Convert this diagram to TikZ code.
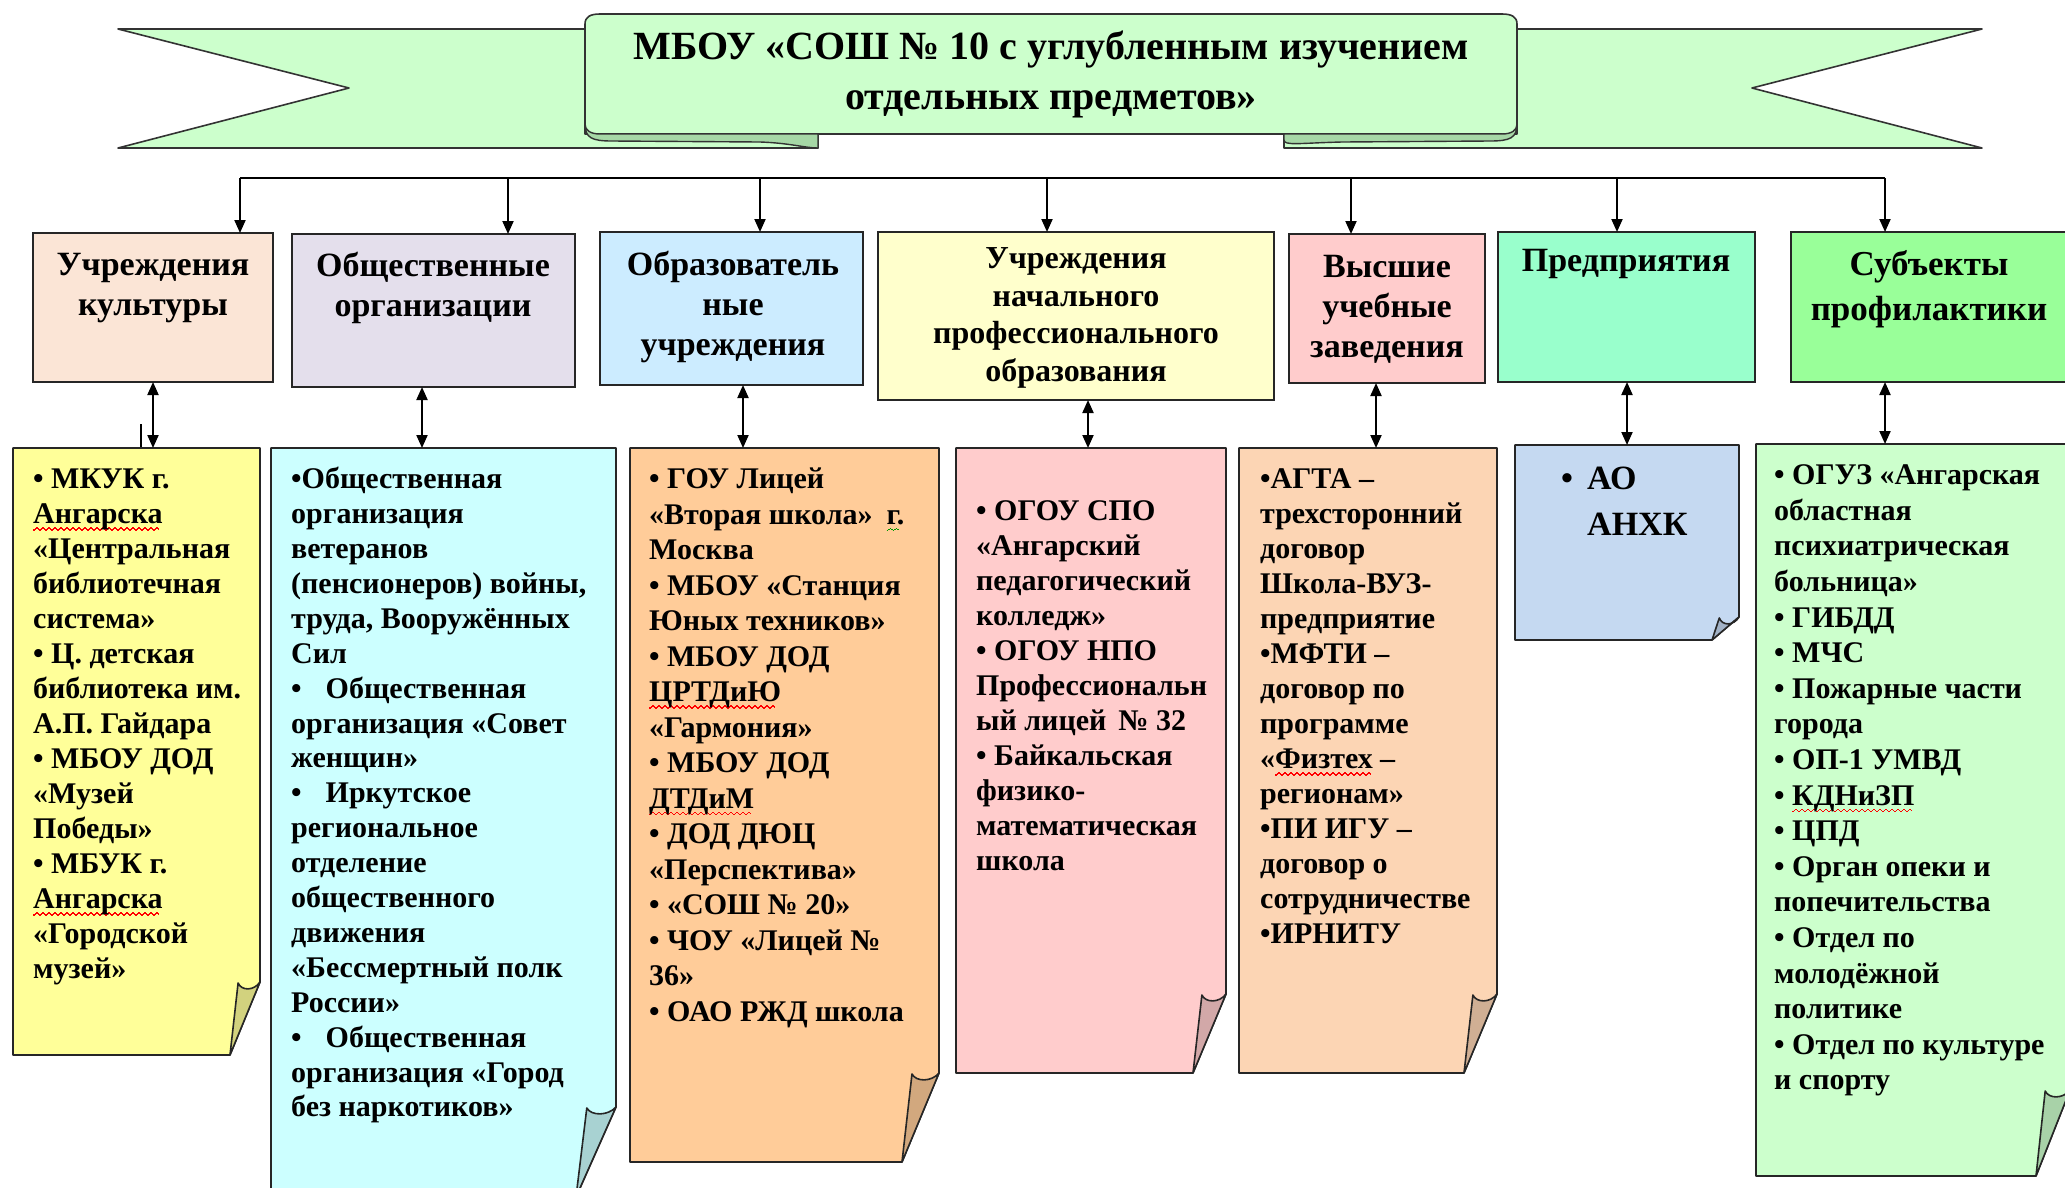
\documentclass[tikz,border=0pt]{standalone}
\usepackage{fontspec}
\setmainfont{Liberation Serif}
\usetikzlibrary{arrows.meta,calc}
\definecolor{bannergreen}{HTML}{CCFFCC}
\definecolor{bannerfold}{HTML}{A6D8A6}
\definecolor{hA}{HTML}{FBE5D6}
\definecolor{hB}{HTML}{E4DFEC}
\definecolor{hC}{HTML}{CCECFF}
\definecolor{hD}{HTML}{FFFFCC}
\definecolor{hE}{HTML}{FFCCCC}
\definecolor{hF}{HTML}{99FFCC}
\definecolor{hG}{HTML}{99FF99}
\definecolor{nA}{HTML}{FFFF99}\definecolor{fA}{HTML}{D2D27E}
\definecolor{nB}{HTML}{CCFFFF}\definecolor{fB}{HTML}{A8D2D2}
\definecolor{nC}{HTML}{FFCC99}\definecolor{fC}{HTML}{D2A87E}
\definecolor{nD}{HTML}{FFCCCC}\definecolor{fD}{HTML}{D2A8A8}
\definecolor{nE}{HTML}{FCD5B4}\definecolor{fE}{HTML}{D0AF94}
\definecolor{nF}{HTML}{C5D9F1}\definecolor{fF}{HTML}{A2B2C6}
\definecolor{nG}{HTML}{CCFFCC}\definecolor{fG}{HTML}{A8D2A8}
\newlength\wavelen
\newcommand\wavy[2]{\settowidth\wavelen{#2}\rlap{\textcolor{#1}{\hbox to\wavelen{\leaders\hbox{\rule[-7pt]{1.5pt}{1.3pt}\rule[-6pt]{1.5pt}{1.3pt}\rule[-5pt]{1.5pt}{1.3pt}\rule[-6pt]{1.5pt}{1.3pt}}\hfill}}}#2}
\newcommand\rw[1]{\wavy{red}{#1}}
\newcommand\gw[1]{\wavy{green!60!black}{#1}}
\newcommand\fl{\rule{0pt}{0.9em}}
\newcommand\notepaper[9]{%
  \node[notebox, minimum width={#4-#2}, minimum height={#5-#3}] (#1) at (#2,#3) {};
  \fill[black!35, xshift=3pt, yshift=-3pt] (#1.north west) -- (#1.north east) -- ([yshift=#7pt]#1.south east) -- ([xshift=-#6pt]#1.south east) -- (#1.south west) -- cycle;
  \filldraw[noteline, fill=#8] (#1.north west) -- (#1.north east) -- ([yshift=#7pt]#1.south east) -- ([xshift=-#6pt]#1.south east) -- (#1.south west) -- cycle;
  \filldraw[noteline, fill=#9] ([xshift=-#6pt]#1.south east) -- ([xshift={-0.73*#6pt}, yshift={(#7-1)*1pt}]#1.south east) .. controls ([xshift={-0.62*#6pt}, yshift={(#7-9)*1pt}]#1.south east) and ([xshift={-0.2*#6pt}, yshift={(#7-9)*1pt}]#1.south east) .. ([yshift=#7pt]#1.south east) -- cycle;
}
\tikzset{
  hdr/.style={draw=black!85, line width=1.6pt, anchor=north west, inner sep=0pt, outer sep=0pt},
  notebox/.style={anchor=north west, inner sep=0pt, outer sep=0pt},
  noteline/.style={draw=black!85, line width=1.6pt, line join=round},
  arr/.style={line width=2pt, -{Triangle[length=13pt,width=11pt]}},
  darr/.style={line width=2pt, {Triangle[length=13pt,width=11pt]}-{Triangle[length=13pt,width=11pt]}},
  banner/.style={fill=bannergreen, draw=black!80, line width=1.6pt, line join=round},
  bfold/.style={fill=bannerfold, draw=black!80, line width=1.4pt, line join=round},
  hdrtext/.style={align=center, inner sep=0pt, font=\bfseries\fontsize{34}{40}\selectfont},
  notetext/.style={align=left, anchor=north west, inner sep=0pt, font=\bfseries\fontsize{30}{35}\selectfont},
  titletext/.style={align=center, inner sep=0pt, font=\bfseries\fontsize{40}{50}\selectfont},
}
\begin{document}
\begin{tikzpicture}[x=1pt, y=-1pt]
\useasboundingbox (0,0) rectangle (2065,1187);
% ---- banner ----
\filldraw[banner] (118,29) -- (818,29) -- (818,148) -- (118,148) -- (349,88) -- cycle;
\filldraw[banner] (1982,29) -- (1284,29) -- (1284,148) -- (1982,148) -- (1752,88) -- cycle;
\filldraw[banner] (585,134) -- (585,24) .. controls (585,17) and (590,14) .. (600,14) -- (1502,14) .. controls (1512,14) and (1517,17) .. (1517,24) -- (1517,134) -- cycle;
\filldraw[bfold] (585,124) .. controls (585,138) and (592,141) .. (612,141) -- (760,142) .. controls (790,143) and (805,148) .. (818,148) -- (818,134) -- (600,134) .. controls (590,134) and (585,130) .. (585,124) -- cycle;
\filldraw[bfold] (1517,124) .. controls (1517,138) and (1510,141) .. (1490,141) -- (1342,142) .. controls (1300,143) and (1284,146) .. (1284,140) -- (1284,134) -- (1502,134) .. controls (1512,134) and (1517,130) .. (1517,124) -- cycle;
\node[titletext] (title) at (1051,74) {МБОУ «СОШ № 10 с углубленным изучением\\отдельных предметов»};
% ---- header boxes ----
\node[hdr, fill=hA, minimum width=240pt, minimum height=149pt] (h1) at (33,233) {};
\node[hdr, fill=hB, minimum width=283pt, minimum height=153pt] (h2) at (292,234) {};
\node[hdr, fill=hC, minimum width=263pt, minimum height=153pt] (h3) at (600,232) {};
\node[hdr, fill=hD, minimum width=396pt, minimum height=168pt] (h4) at (878,232) {};
\node[hdr, fill=hE, minimum width=196pt, minimum height=149pt] (h5) at (1289,234) {};
\node[hdr, fill=hF, minimum width=257pt, minimum height=150pt] (h6) at (1498,232) {};
\node[hdr, fill=hG, minimum width=279pt, minimum height=150pt] (h7) at (1791,232) {};
\node[hdrtext] (h1t) at (153,288) {Учреждения\\культуры};
\node[hdrtext] (h2t) at (433,288) {Общественные\\организации};
\node[hdrtext] (h3t) at (733,307) {Образователь\\ные\\учреждения};
\node[hdrtext, font=\bfseries\fontsize{32}{37.5}\selectfont] (h4t) at (1076,318) {Учреждения\\начального\\профессионального\\образования};
\node[hdrtext] (h5t) at (1387,309) {Высшие\\учебные\\заведения};
\node[hdrtext] (h6t) at (1626,264) {Предприятия};
\node[hdrtext, font=\bfseries\fontsize{35}{45}\selectfont] (h7t) at (1929,289) {Субъекты\\профилактики};
% ---- bus and drops ----
\coordinate (b1) at (240,178);
\coordinate (b2) at (508,178);
\coordinate (b3) at (760,178);
\coordinate (b4) at (1047,178);
\coordinate (b5) at (1351,178);
\coordinate (b6) at (1617,178);
\coordinate (b7) at (1885,178);
\draw[line width=2pt] (b1) -- (b7);
\draw[arr] (b1) -- (b1 |- h1.north);
\draw[arr] (b2) -- (b2 |- h2.north);
\draw[arr] (b3) -- (b3 |- h3.north);
\draw[arr] (b4) -- (b4 |- h4.north);
\draw[arr] (b5) -- (b5 |- h5.north);
\draw[arr] (b6) -- (b6 |- h6.north);
\draw[arr] (b7) -- (b7 |- h7.north);
% ---- notes ----
\notepaper{n1}{13}{448}{260}{1055}{30}{73}{nA}{fA}
\notepaper{n2}{271}{448}{616}{1197}{40}{90}{nB}{fB}
\notepaper{n3}{630}{448}{939}{1162}{37}{89}{nC}{fC}
\notepaper{n4}{956}{448}{1226}{1073}{33}{79}{nD}{fD}
\notepaper{n5}{1239}{448}{1497}{1073}{33}{79}{nE}{fE}
\notepaper{n6}{1515}{445}{1739}{640}{27}{23}{nF}{fF}
\notepaper{n7}{1756}{444}{2070}{1176}{34}{86}{nG}{fG}
% ---- double arrows ----
\coordinate (a1) at (153,0);
\coordinate (a2) at (422,0);
\coordinate (a3) at (743,0);
\coordinate (a4) at (1088,0);
\coordinate (a5) at (1376,0);
\coordinate (a6) at (1627,0);
\coordinate (a7) at (1885,0);
\draw[darr] (a1 |- h1.south) -- (a1 |- n1.north);
\draw[darr] (a2 |- h2.south) -- (a2 |- n2.north);
\draw[darr] (a3 |- h3.south) -- (a3 |- n3.north);
\draw[darr] (a4 |- h4.south) -- (a4 |- n4.north);
\draw[darr] (a5 |- h5.south) -- (a5 |- n5.north);
\draw[darr] (a6 |- h6.south) -- (a6 |- n6.north);
\draw[darr] (a7 |- h7.south) -- (a7 |- n7.north);
\draw[line width=2pt] (141,424) -- (141,447);
% ---- note texts ----
\node[notetext] (n1t) at (33,461.5) {\fl{}• МКУК г.\\\rw{Ангарска}\\«Центральная\\библиотечная\\система»\\• Ц. детская\\библиотека им.\\А.П. Гайдара\\• МБОУ ДОД\\«Музей\\Победы»\\• МБУК г.\\\rw{Ангарска}\\«Городской\\музей»};
\node[notetext, font=\bfseries\fontsize{30}{34.9}\selectfont] (n2t) at (291,461.5) {\fl{}•Общественная\\организация\\ветеранов\\(пенсионеров) войны,\\труда, Вооружённых\\Сил\\•\hspace{24pt}Общественная\\организация «Совет\\женщин»\\•\hspace{24pt}Иркутское\\региональное\\отделение\\общественного\\движения\\«Бессмертный полк\\России»\\•\hspace{24pt}Общественная\\организация «Город\\без наркотиков»};
\node[notetext, font=\bfseries\fontsize{30}{35.5}\selectfont] (n3t) at (649,461.5) {\fl{}• ГОУ Лицей\\«Вторая школа»\hspace{14pt}\gw{г.}\\Москва\\• МБОУ «Станция\\Юных техников»\\• МБОУ ДОД\\\rw{ЦРТДиЮ}\\«Гармония»\\• МБОУ ДОД\\\rw{ДТДиМ}\\• ДОД ДЮЦ\\«Перспектива»\\• «СОШ № 20»\\• ЧОУ «Лицей №\\36»\\• ОАО РЖД школа};
\node[notetext] (n4t) at (976,493.5) {\fl{}• ОГОУ СПО\\«Ангарский\\педагогический\\колледж»\\• ОГОУ НПО\\Профессиональн\\ый лицей\hspace{12pt}№ 32\\• Байкальская\\физико-\\математическая\\школа};
\node[notetext] (n5t) at (1260,461.5) {\fl{}•АГТА –\\трехсторонний\\договор\\Школа-ВУЗ-\\предприятие\\•МФТИ –\\договор по\\программе\\«\rw{Физтех} –\\регионам»\\•ПИ ИГУ –\\договор о\\сотрудничестве\\•ИРНИТУ};
\node[notetext, font=\bfseries\fontsize{34}{46}\selectfont] (n6t) at (1561,458.5) {\fl\makebox[26pt][l]{•}АО\\\hspace*{26pt}АНХК};
\node[notetext, font=\bfseries\fontsize{30}{35.6}\selectfont] (n7t) at (1774,457.5) {\fl{}• ОГУЗ «Ангарская\\областная\\психиатрическая\\больница»\\• ГИБДД\\• МЧС\\• Пожарные части\\города\\• ОП-1 УМВД\\• \rw{КДНиЗП}\\• ЦПД\\• Орган опеки и\\попечительства\\• Отдел по\\молодёжной\\политике\\• Отдел по культуре\\и спорту};
\end{tikzpicture}
\end{document}
